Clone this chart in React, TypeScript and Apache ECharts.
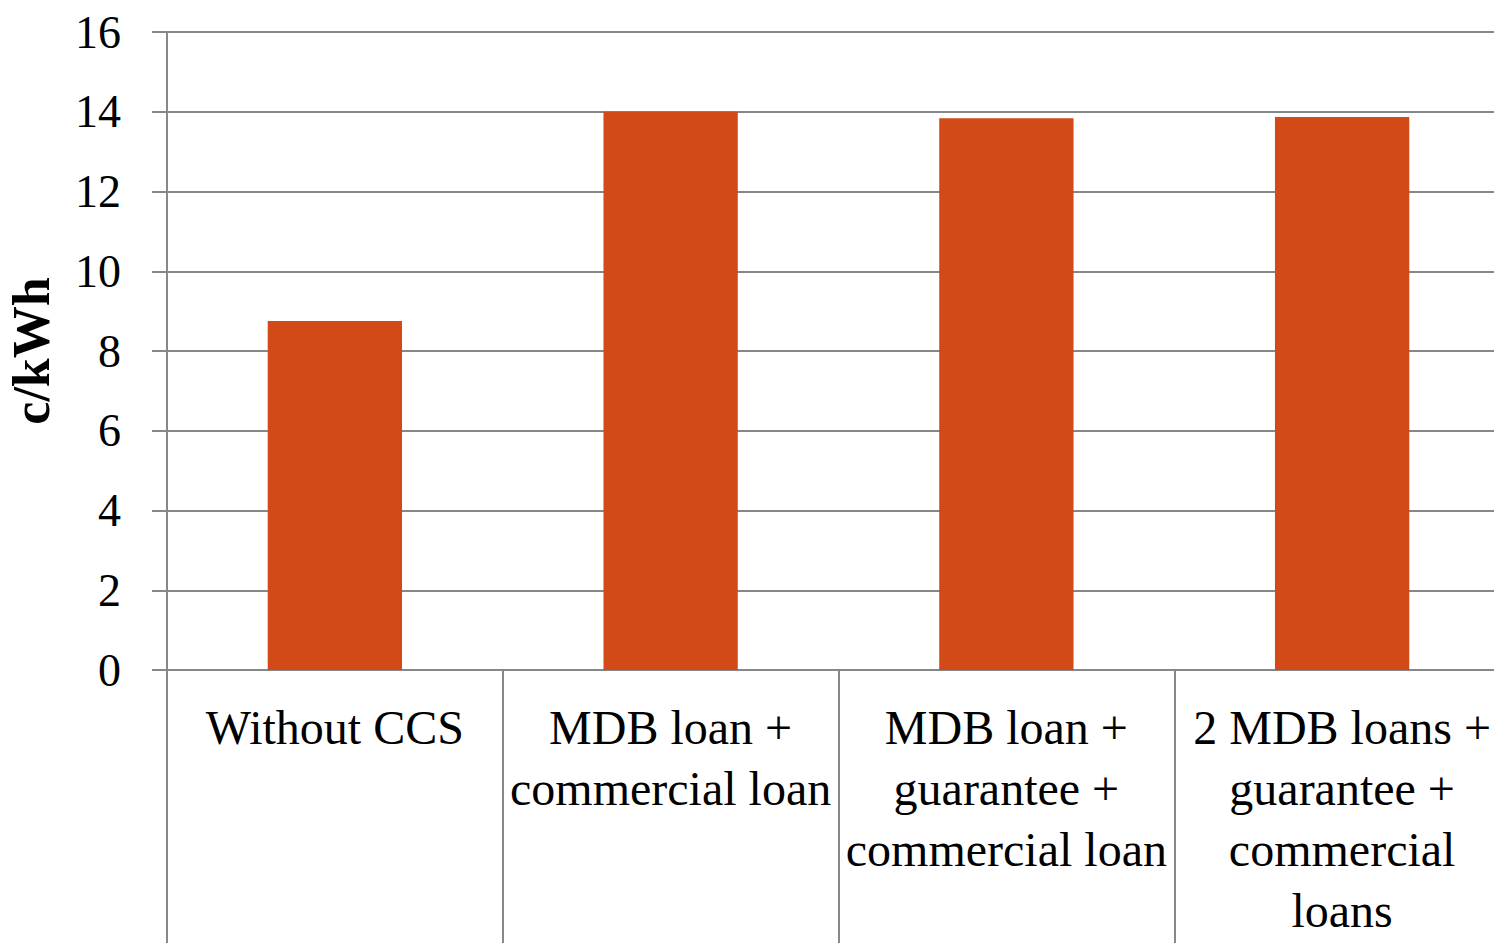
import React, { useEffect, useRef } from "react";
import * as echarts from "echarts";

const categories = [
  "Without CCS",
  "MDB loan +\ncommercial loan",
  "MDB loan +\nguarantee +\ncommercial loan",
  "2 MDB loans +\nguarantee +\ncommercial\nloans",
];
const values = [8.75, 14.0, 13.84, 13.87];
const yTicks = { min: 0, max: 16, interval: 2 };
const yName = "c/kWh";

export default function App() {
  const ref = useRef<HTMLDivElement>(null);
  useEffect(() => {
    if (!ref.current) return;
    const chart = echarts.init(ref.current, null, { renderer: "svg" });
    const font = "'Liberation Serif', 'Times New Roman', serif";
    chart.setOption({
      animation: false,
      backgroundColor: "#ffffff",
      grid: { left: 167, right: 10, top: 32, bottom: 273, containLabel: false, outerBoundsMode: "none" },
      xAxis: {
        type: "category",
        data: categories,
        axisLine: { show: true, lineStyle: { color: "#878787", width: 2 } },
        axisTick: { show: true, length: 273, alignWithLabel: false, lineStyle: { color: "#878787", width: 2 } },
        axisLabel: {
          interval: 0,
          fontFamily: font,
          fontSize: 48,
          lineHeight: 61,
          color: "#000000",
          margin: 27,
          verticalAlign: "top",
        },
        splitLine: { show: false },
      },
      yAxis: {
        type: "value",
        min: yTicks.min,
        max: yTicks.max,
        interval: yTicks.interval,
        name: yName,
        nameLocation: "middle",
        nameGap: 110,
        nameRotate: 90,
        nameTextStyle: { fontFamily: font, fontSize: 52, fontWeight: "bold", color: "#000000" },
        axisLine: { show: true, lineStyle: { color: "#878787", width: 2 } },
        axisTick: { show: true, length: 15, lineStyle: { color: "#878787", width: 2 } },
        axisLabel: { fontFamily: font, fontSize: 46, color: "#000000", margin: 46 },
        splitLine: { show: true, lineStyle: { color: "#878787", width: 2 } },
      },
      series: [
        {
          type: "bar",
          data: values,
          barWidth: "40%",
          itemStyle: { color: "#D24A18" },
        },
      ],
    });
    return () => chart.dispose();
  }, []);
  return (
    <div style={{ position: "fixed", left: 0, top: 0, width: 1494, height: 943, overflow: "hidden", background: "#fff" }}>
      <div ref={ref} style={{ width: 1520, height: 943 }} />
    </div>
  );
}
